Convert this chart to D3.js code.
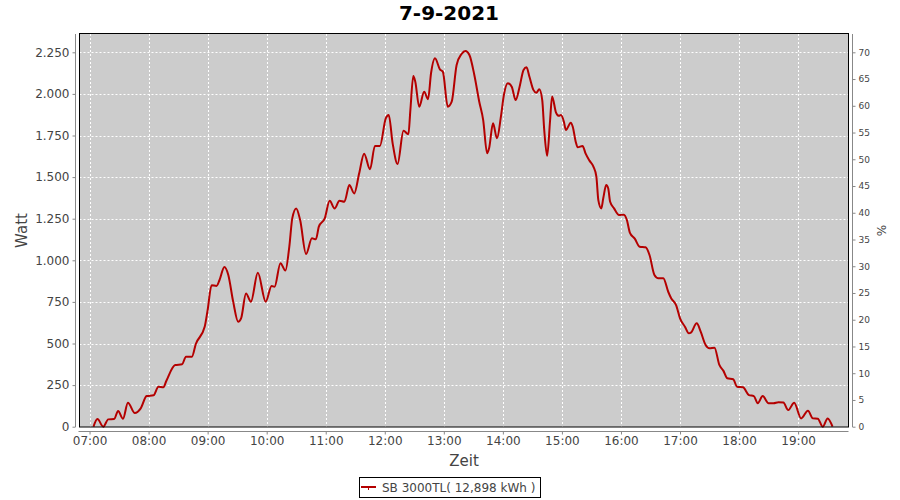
<!DOCTYPE html>
<html>
<head>
<meta charset="utf-8">
<script src="https://cdn.jsdelivr.net/npm/d3@7"></script>
<style>
  html, body { margin: 0; padding: 0; background: #ffffff; }
  svg { display: block; }
  text { font-family: "DejaVu Sans", sans-serif; }
</style>
</head>
<body>
<svg id="chart" width="900" height="500"></svg>
<script>
// ---- data ----
const times = ["07:04","07:08","07:14","07:19","07:25","07:29","07:34","07:39","07:46","07:52","07:58",
"08:05","08:10","08:15","08:18","08:27","08:34","08:38","08:44","08:48","08:57",
"09:00","09:04","09:09","09:12","09:17","09:21","09:26","09:31","09:34","09:39","09:44","09:51","09:59",
"10:05","10:08","10:14","10:19","10:23","10:26","10:30","10:34","10:40","10:46","10:50","10:53","10:59",
"11:04","11:09","11:14","11:19","11:24","11:29","11:34","11:39","11:45","11:50","11:55",
"12:01","12:04","12:08","12:13","12:19","12:24","12:26","12:29","12:31","12:35","12:40","12:44","12:47","12:51","12:56","12:59",
"13:04","13:08","13:13","13:18","13:22","13:26","13:31","13:36","13:40","13:44","13:46","13:50","13:54","13:58",
"14:01","14:05","14:09","14:13","14:17","14:21","14:24","14:27","14:31","14:34","14:37","14:40","14:42","14:45","14:48","14:50","14:54","14:57","14:59",
"15:02","15:04","15:09","15:11","15:14","15:16","15:21","15:24","15:28","15:32","15:35","15:37","15:40","15:42","15:45","15:47","15:49","15:53","15:58",
"16:03","16:06","16:09","16:14","16:19","16:25","16:29","16:34","16:38","16:43","16:48","16:51","16:56",
"17:00","17:05","17:09","17:11","17:17","17:21","17:26","17:30","17:35","17:40","17:44","17:48","17:54","17:58",
"18:04","18:10","18:15","18:19","18:24","18:30","18:35","18:40","18:45","18:50","18:56",
"19:03","19:10","19:15","19:20","19:25","19:30","19:35"];
const watts = [0,46,0,44,46,94,48,144,82,110,184,
189,240,237,275,371,375,421,421,497,600,
701,850,846,880,960,912,750,631,651,800,751,925,751,
846,841,982,938,1082,1252,1312,1242,1038,1132,1126,1202,1252,
1358,1312,1358,1352,1452,1402,1523,1641,1547,1687,1687,
1853,1873,1703,1579,1779,1757,1903,2108,2073,1923,2013,1968,2124,2214,2148,2134,
1923,1953,2174,2240,2258,2234,2114,1953,1843,1643,1673,1823,1733,1863,
1993,2064,2043,1963,2043,2144,2160,2103,2024,2007,2028,1963,1785,1628,1843,1985,1888,1868,1873,
1833,1783,1827,1803,1713,1679,1687,1643,1599,1563,1503,1362,1312,1373,1452,1433,1352,1312,1272,
1274,1242,1167,1130,1082,1078,1032,912,892,892,811,772,731,
651,601,561,565,621,571,491,471,475,371,337,291,285,240,
237,190,184,141,184,141,141,147,145,100,144,
50,96,50,48,0,50,0];
const leftTicks = [0,250,500,750,1000,1250,1500,1750,2000,2250];
const leftTickLabels = ["0","250","500","750","1.000","1.250","1.500","1.750","2.000","2.250"];
const rightTicks = [0,5,10,15,20,25,30,35,40,45,50,55,60,65,70];
const hourTicks = ["07:00","08:00","09:00","10:00","11:00","12:00","13:00","14:00","15:00","16:00","17:00","18:00","19:00"];
const titleText = "7-9-2021";
const seriesName = "SB 3000TL( 12,898 kWh )";

// ---- layout ----
const svg = d3.select("#chart");
const px0 = 79.5, px1 = 848.5, py0 = 34, py1 = 427;
const parse = d3.timeParse("%H:%M:%S");
const parseHM = d3.timeParse("%H:%M");

const x = d3.scaleTime()
  .domain([parse("06:49:48"), parse("19:51:12")])
  .range([px0, px1]);
const y = d3.scaleLinear().domain([0, 2360]).range([426.7, py0]);
const yR = d3.scaleLinear().domain([0, 2360 * 70 / 2250]).range([426.7, py0]);

const data = times.map((t, i) => ({ t: parseHM(t), v: watts[i] }));

// title
svg.append("text")
  .attr("x", 449).attr("y", 20)
  .attr("text-anchor", "middle")
  .attr("font-size", 20).attr("font-weight", "bold")
  .attr("fill", "#000")
  .text(titleText);

// plot background
svg.append("rect")
  .attr("x", px0).attr("y", py0)
  .attr("width", px1 - px0).attr("height", py1 - py0)
  .attr("fill", "#cccccc");

// gridlines
const grid = svg.append("g");
grid.selectAll("line.h").data(leftTicks).join("line")
  .attr("x1", px0).attr("x2", px1)
  .attr("y1", d => Math.round(y(d)) + 0.5).attr("y2", d => Math.round(y(d)) + 0.5)
  .attr("stroke", "#ffffff").attr("stroke-width", 1)
  .attr("stroke-dasharray", "2,2");
grid.selectAll("line.v").data(hourTicks.map(parseHM)).join("line")
  .attr("y1", py0).attr("y2", py1)
  .attr("x1", d => Math.round(x(d)) + 0.5).attr("x2", d => Math.round(x(d)) + 0.5)
  .attr("stroke", "#ffffff").attr("stroke-width", 1)
  .attr("stroke-dasharray", "2,2");

// series line
const line = d3.line().x(d => x(d.t)).y(d => y(d.v)).curve(d3.curveMonotoneX);
svg.append("path")
  .datum(data)
  .attr("d", line)
  .attr("fill", "none")
  .attr("stroke", "#b40000")
  .attr("stroke-width", 2)
  .attr("stroke-linejoin", "round");

// plot border
svg.append("rect")
  .attr("x", px0).attr("y", py0 - 0.5)
  .attr("width", px1 - px0).attr("height", py1 - py0 + 0.5)
  .attr("fill", "none").attr("stroke", "#000").attr("stroke-width", 1);

// axes
const axisColor = "#888888";
const leftAxis = d3.axisLeft(y).tickValues(leftTicks)
  .tickFormat((d, i) => leftTickLabels[i]).tickSize(3).tickPadding(3);
const gL = svg.append("g").attr("transform", "translate(75.5,0)").call(leftAxis);

const bottomAxis = d3.axisBottom(x).tickValues(hourTicks.map(parseHM))
  .tickFormat(d3.timeFormat("%H:%M")).tickSize(3).tickPadding(2);
const gB = svg.append("g").attr("transform", "translate(0,431.5)").call(bottomAxis);

const rightAxis = d3.axisRight(yR).tickValues(rightTicks).tickSize(3).tickPadding(3);
const gR = svg.append("g").attr("transform", "translate(852.5,0)").call(rightAxis);

[gL, gB, gR].forEach(g => {
  g.select(".domain").attr("stroke", axisColor);
  g.selectAll(".tick line").attr("stroke", axisColor);
  g.selectAll("text").attr("fill", "#444444").attr("font-family", "DejaVu Sans, sans-serif");
});
gL.selectAll("text").attr("font-size", 12);
gB.selectAll("text").attr("font-size", 12);
gR.selectAll("text").attr("font-size", 9);
gL.select(".domain").attr("d", `M0,${py0}V${py1}`);
gB.select(".domain").attr("d", `M${px0 - 1},0H${px1}`);
gR.select(".domain").attr("d", `M0,${py0}V${py1}`);

// axis labels
svg.append("text")
  .attr("transform", `translate(27,${(py0 + py1) / 2}) rotate(-90)`)
  .attr("text-anchor", "middle")
  .attr("font-size", 15).attr("fill", "#444444")
  .text("Watt");
svg.append("text")
  .attr("x", (px0 + px1) / 2).attr("y", 466)
  .attr("text-anchor", "middle")
  .attr("font-size", 15).attr("fill", "#444444")
  .text("Zeit");
svg.append("text")
  .attr("transform", `translate(886,${(py0 + py1) / 2}) rotate(-90)`)
  .attr("text-anchor", "middle")
  .attr("font-size", 12).attr("fill", "#444444")
  .text("%");

// legend
const lg = svg.append("g");
lg.append("rect")
  .attr("x", 359.5).attr("y", 477.5).attr("width", 181).attr("height", 20)
  .attr("fill", "#fff").attr("stroke", "#000").attr("stroke-width", 1);
lg.append("line")
  .attr("x1", 361).attr("x2", 376).attr("y1", 487).attr("y2", 487)
  .attr("stroke", "#b40000").attr("stroke-width", 2);
lg.append("line")
  .attr("x1", 368.5).attr("x2", 368.5).attr("y1", 487).attr("y2", 490)
  .attr("stroke", "#b40000").attr("stroke-width", 1);
lg.append("text")
  .attr("x", 382).attr("y", 491.5)
  .attr("font-size", 12).attr("fill", "#444444")
  .text(seriesName);
</script>
</body>
</html>
